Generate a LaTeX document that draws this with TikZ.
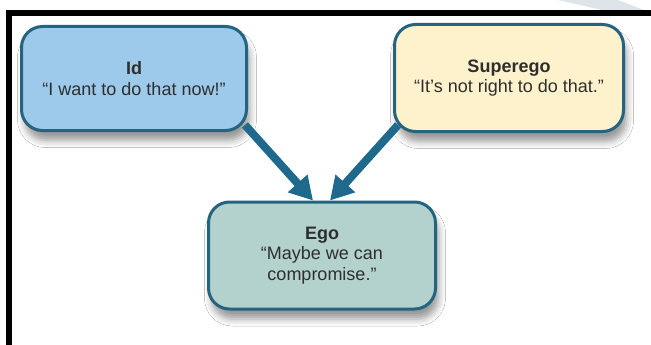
\documentclass[tikz,border=0pt]{standalone}
\usepackage{fontspec}
\setmainfont{Liberation Sans}
\usetikzlibrary{arrows.meta,shadows.blur}
\definecolor{idfill}{HTML}{9DC9EA}
\definecolor{supfill}{HTML}{FDF2CC}
\definecolor{egofill}{HTML}{B3D2CE}
\definecolor{boxline}{HTML}{24647E}
\definecolor{arrowc}{HTML}{1F6A8C}
\definecolor{txt}{HTML}{2E2E2E}
\definecolor{band}{HTML}{DDE4EA}
\begin{document}
\begin{tikzpicture}[x=1pt,y=-1pt,
  psybox/.style={draw=boxline, line width=3pt, rounded corners=21pt,
    align=center, text=txt, inner sep=0pt,
    font=\fontsize{18}{20.5}\selectfont,
    blur shadow={shadow xshift=3pt, shadow yshift=-10pt,
      shadow blur radius=7pt, shadow opacity=40}},
  psyarrow/.style={draw=arrowc, line width=8pt,
    -{Triangle[width=25pt,length=23pt]}}]
\useasboundingbox (0,0) rectangle (651,345);
\fill[white] (0,0) rectangle (651,345);
% top-right light band
\fill[band] (558,0) -- (618,0) -- (644,10) -- (602,10) -- cycle;
% frame
\fill[black] (6,10) rectangle (651,16);
\fill[black] (6,10) rectangle (12,345);
% boxes
\node[psybox, fill=idfill, minimum width=225pt, minimum height=104pt]
  (id) at (134,78.5) {\textbf{Id}\\“I want to do that now!”};
\node[psybox, fill=supfill, minimum width=229pt, minimum height=107pt]
  (sup) at (509,78) {\textbf{Superego}\\“It’s not right to do that.”};
\node[psybox, fill=egofill, minimum width=227pt, minimum height=107pt]
  (ego) at (322,255.5) {\textbf{Ego}\\“Maybe we can\\compromise.”};
% arrows
\draw[psyarrow] ([xshift=-3pt,yshift=7pt]id.south east) -- ([xshift=-9pt]ego.north);
\draw[psyarrow] ([xshift=5pt,yshift=8pt]sup.south west) -- ([xshift=8pt]ego.north);
\end{tikzpicture}
\end{document}
